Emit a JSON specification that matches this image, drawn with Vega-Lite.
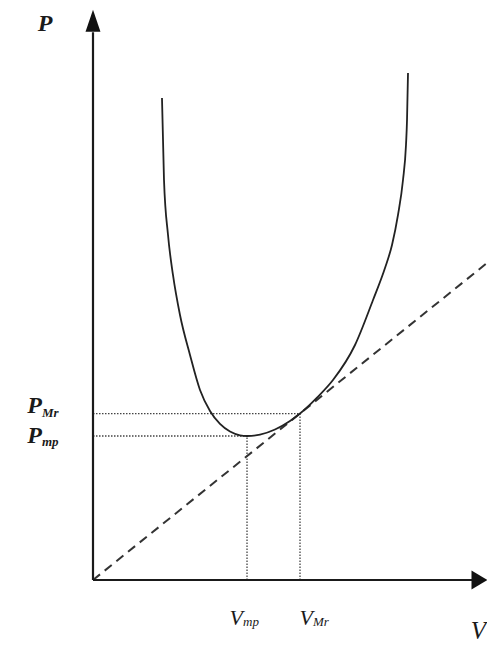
{
  "$schema": "https://vega.github.io/schema/vega-lite/v6.json",
  "width": 394,
  "height": 570,
  "autosize": "none",
  "padding": {"left": 93, "top": 10, "right": 0, "bottom": 65},
  "background": "white",
  "config": {"view": {"stroke": null}},
  "datasets": {
    "curve": [
      {"V": 1.751, "P": 8.456},
      {"V": 1.802, "P": 7.018},
      {"V": 1.904, "P": 6.053},
      {"V": 2.03, "P": 5.351},
      {"V": 2.208, "P": 4.649},
      {"V": 2.462, "P": 3.947},
      {"V": 2.716, "P": 3.333},
      {"V": 2.97, "P": 2.965},
      {"V": 3.223, "P": 2.737},
      {"V": 3.477, "P": 2.605},
      {"V": 3.731, "P": 2.539},
      {"V": 3.909, "P": 2.526},
      {"V": 4.239, "P": 2.55},
      {"V": 4.619, "P": 2.64},
      {"V": 5.0, "P": 2.79},
      {"V": 5.254, "P": 2.92},
      {"V": 5.685, "P": 3.2},
      {"V": 6.091, "P": 3.509},
      {"V": 6.65, "P": 4.123},
      {"V": 7.107, "P": 4.912},
      {"V": 7.411, "P": 5.474},
      {"V": 7.589, "P": 5.877},
      {"V": 7.741, "P": 6.404},
      {"V": 7.868, "P": 7.018},
      {"V": 7.944, "P": 7.632},
      {"V": 7.97, "P": 8.07},
      {"V": 7.995, "P": 8.895}
    ],
    "levels": [
      {"key": "mp", "V": 3.909, "P": 2.526, "origin": 0},
      {"key": "Mr", "V": 5.254, "P": 2.92, "origin": 0}
    ],
    "ray": [
      {"V": 0, "P": 0},
      {"V": 10, "P": 5.561}
    ],
    "axes": [
      {"origin": 0, "V": 9.62, "P": 9.61}
    ],
    "arrows": [
      {"dir": "up", "V": 0, "P": 9.81},
      {"dir": "right", "V": 9.81, "P": 0}
    ],
    "titles": [
      {"t": "P", "V": 0, "P": 10},
      {"t": "V", "V": 10, "P": 0}
    ]
  },
  "layer": [
    {
      "data": {"name": "levels"},
      "mark": {"type": "rule", "color": "#444", "strokeWidth": 1.3, "strokeDash": [1.5, 1.5]},
      "encoding": {
        "x": {"field": "origin", "type": "quantitative", "scale": {"domain": [0, 10]}, "axis": null},
        "x2": {"field": "V"},
        "y": {"field": "P", "type": "quantitative", "scale": {"domain": [0, 10]}, "axis": null}
      }
    },
    {
      "data": {"name": "levels"},
      "mark": {"type": "rule", "color": "#444", "strokeWidth": 1.3, "strokeDash": [1.5, 1.5]},
      "encoding": {
        "x": {"field": "V", "type": "quantitative"},
        "y": {"field": "origin", "type": "quantitative"},
        "y2": {"field": "P"}
      }
    },
    {
      "data": {"name": "ray"},
      "mark": {"type": "line", "color": "#333", "strokeWidth": 2, "strokeDash": [9, 6]},
      "encoding": {
        "x": {"field": "V", "type": "quantitative"},
        "y": {"field": "P", "type": "quantitative"}
      }
    },
    {
      "data": {"name": "curve"},
      "mark": {"type": "line", "color": "#222", "strokeWidth": 1.8, "interpolate": "monotone"},
      "encoding": {
        "x": {"field": "V", "type": "quantitative"},
        "y": {"field": "P", "type": "quantitative"},
        "order": {"field": "V", "type": "quantitative"}
      }
    },
    {
      "data": {"name": "axes"},
      "mark": {"type": "rule", "color": "#1a1a1a", "strokeWidth": 2.2},
      "encoding": {
        "x": {"field": "origin", "type": "quantitative"},
        "x2": {"field": "V"},
        "y": {"field": "origin", "type": "quantitative"}
      }
    },
    {
      "data": {"name": "axes"},
      "mark": {"type": "rule", "color": "#1a1a1a", "strokeWidth": 2.2},
      "encoding": {
        "x": {"field": "origin", "type": "quantitative"},
        "y": {"field": "origin", "type": "quantitative"},
        "y2": {"field": "P"}
      }
    },
    {
      "data": {"name": "arrows"},
      "transform": [{"filter": "datum.dir === 'up'"}],
      "mark": {"type": "point", "filled": true, "color": "#111", "opacity": 1, "shape": "M0,-1L0.68,1L-0.68,1Z", "size": 484},
      "encoding": {
        "x": {"field": "V", "type": "quantitative"},
        "y": {"field": "P", "type": "quantitative"}
      }
    },
    {
      "data": {"name": "arrows"},
      "transform": [{"filter": "datum.dir === 'right'"}],
      "mark": {"type": "point", "filled": true, "color": "#111", "opacity": 1, "shape": "M1,0L-1,-1.2L-1,1.2Z", "size": 256},
      "encoding": {
        "x": {"field": "V", "type": "quantitative"},
        "y": {"field": "P", "type": "quantitative"}
      }
    },
    {
      "data": {"name": "titles"},
      "transform": [{"filter": "datum.t === 'P'"}],
      "mark": {"type": "text", "font": "Liberation Serif", "fontStyle": "italic", "fontWeight": "bold", "fontSize": 24, "color": "#1a1a1a", "align": "center", "baseline": "alphabetic", "dx": -48, "dy": 21},
      "encoding": {
        "x": {"field": "V", "type": "quantitative"},
        "y": {"field": "P", "type": "quantitative"},
        "text": {"field": "t"}
      }
    },
    {
      "data": {"name": "titles"},
      "transform": [{"filter": "datum.t === 'V'"}],
      "mark": {"type": "text", "font": "Liberation Serif", "fontStyle": "italic", "fontSize": 25, "color": "#1a1a1a", "align": "right", "baseline": "alphabetic", "dx": -1, "dy": 59},
      "encoding": {
        "x": {"field": "V", "type": "quantitative"},
        "y": {"field": "P", "type": "quantitative"},
        "text": {"field": "t"}
      }
    },
    {
      "data": {"name": "levels"},
      "transform": [{"filter": "datum.key === 'Mr'"}],
      "mark": {"type": "text", "font": "Liberation Serif", "fontStyle": "italic", "fontWeight": "bold", "fontSize": 24, "color": "#1a1a1a", "align": "right", "baseline": "alphabetic", "dx": -51, "dy": -1, "text": "P"},
      "encoding": {
        "x": {"field": "origin", "type": "quantitative"},
        "y": {"field": "P", "type": "quantitative"}
      }
    },
    {
      "data": {"name": "levels"},
      "transform": [{"filter": "datum.key === 'mp'"}],
      "mark": {"type": "text", "font": "Liberation Serif", "fontStyle": "italic", "fontWeight": "bold", "fontSize": 24, "color": "#1a1a1a", "align": "right", "baseline": "alphabetic", "dx": -51, "dy": 7, "text": "P"},
      "encoding": {
        "x": {"field": "origin", "type": "quantitative"},
        "y": {"field": "P", "type": "quantitative"}
      }
    },
    {
      "data": {"name": "levels"},
      "transform": [{"filter": "datum.key === 'Mr'"}],
      "mark": {"type": "text", "font": "Liberation Serif", "fontStyle": "italic", "fontWeight": "bold", "fontSize": 13, "color": "#1a1a1a", "align": "left", "baseline": "alphabetic", "dx": -51, "dy": 3},
      "encoding": {
        "x": {"field": "origin", "type": "quantitative"},
        "y": {"field": "P", "type": "quantitative"},
        "text": {"field": "key"}
      }
    },
    {
      "data": {"name": "levels"},
      "transform": [{"filter": "datum.key === 'mp'"}],
      "mark": {"type": "text", "font": "Liberation Serif", "fontStyle": "italic", "fontWeight": "bold", "fontSize": 13, "color": "#1a1a1a", "align": "left", "baseline": "alphabetic", "dx": -51, "dy": 10},
      "encoding": {
        "x": {"field": "origin", "type": "quantitative"},
        "y": {"field": "P", "type": "quantitative"},
        "text": {"field": "key"}
      }
    },
    {
      "data": {"name": "levels"},
      "transform": [{"filter": "datum.key === 'mp'"}],
      "mark": {"type": "text", "font": "Liberation Serif", "fontStyle": "italic", "fontSize": 22, "color": "#1a1a1a", "align": "right", "baseline": "alphabetic", "dx": -4, "dy": 45, "text": "V"},
      "encoding": {
        "x": {"field": "V", "type": "quantitative"},
        "y": {"field": "origin", "type": "quantitative"}
      }
    },
    {
      "data": {"name": "levels"},
      "transform": [{"filter": "datum.key === 'Mr'"}],
      "mark": {"type": "text", "font": "Liberation Serif", "fontStyle": "italic", "fontSize": 22, "color": "#1a1a1a", "align": "right", "baseline": "alphabetic", "dx": 13, "dy": 45, "text": "V"},
      "encoding": {
        "x": {"field": "V", "type": "quantitative"},
        "y": {"field": "origin", "type": "quantitative"}
      }
    },
    {
      "data": {"name": "levels"},
      "transform": [{"filter": "datum.key === 'mp'"}],
      "mark": {"type": "text", "font": "Liberation Serif", "fontStyle": "italic", "fontSize": 13, "color": "#1a1a1a", "align": "left", "baseline": "alphabetic", "dx": -4, "dy": 46},
      "encoding": {
        "x": {"field": "V", "type": "quantitative"},
        "y": {"field": "origin", "type": "quantitative"},
        "text": {"field": "key"}
      }
    },
    {
      "data": {"name": "levels"},
      "transform": [{"filter": "datum.key === 'Mr'"}],
      "mark": {"type": "text", "font": "Liberation Serif", "fontStyle": "italic", "fontSize": 13, "color": "#1a1a1a", "align": "left", "baseline": "alphabetic", "dx": 13, "dy": 46},
      "encoding": {
        "x": {"field": "V", "type": "quantitative"},
        "y": {"field": "origin", "type": "quantitative"},
        "text": {"field": "key"}
      }
    }
  ]
}
